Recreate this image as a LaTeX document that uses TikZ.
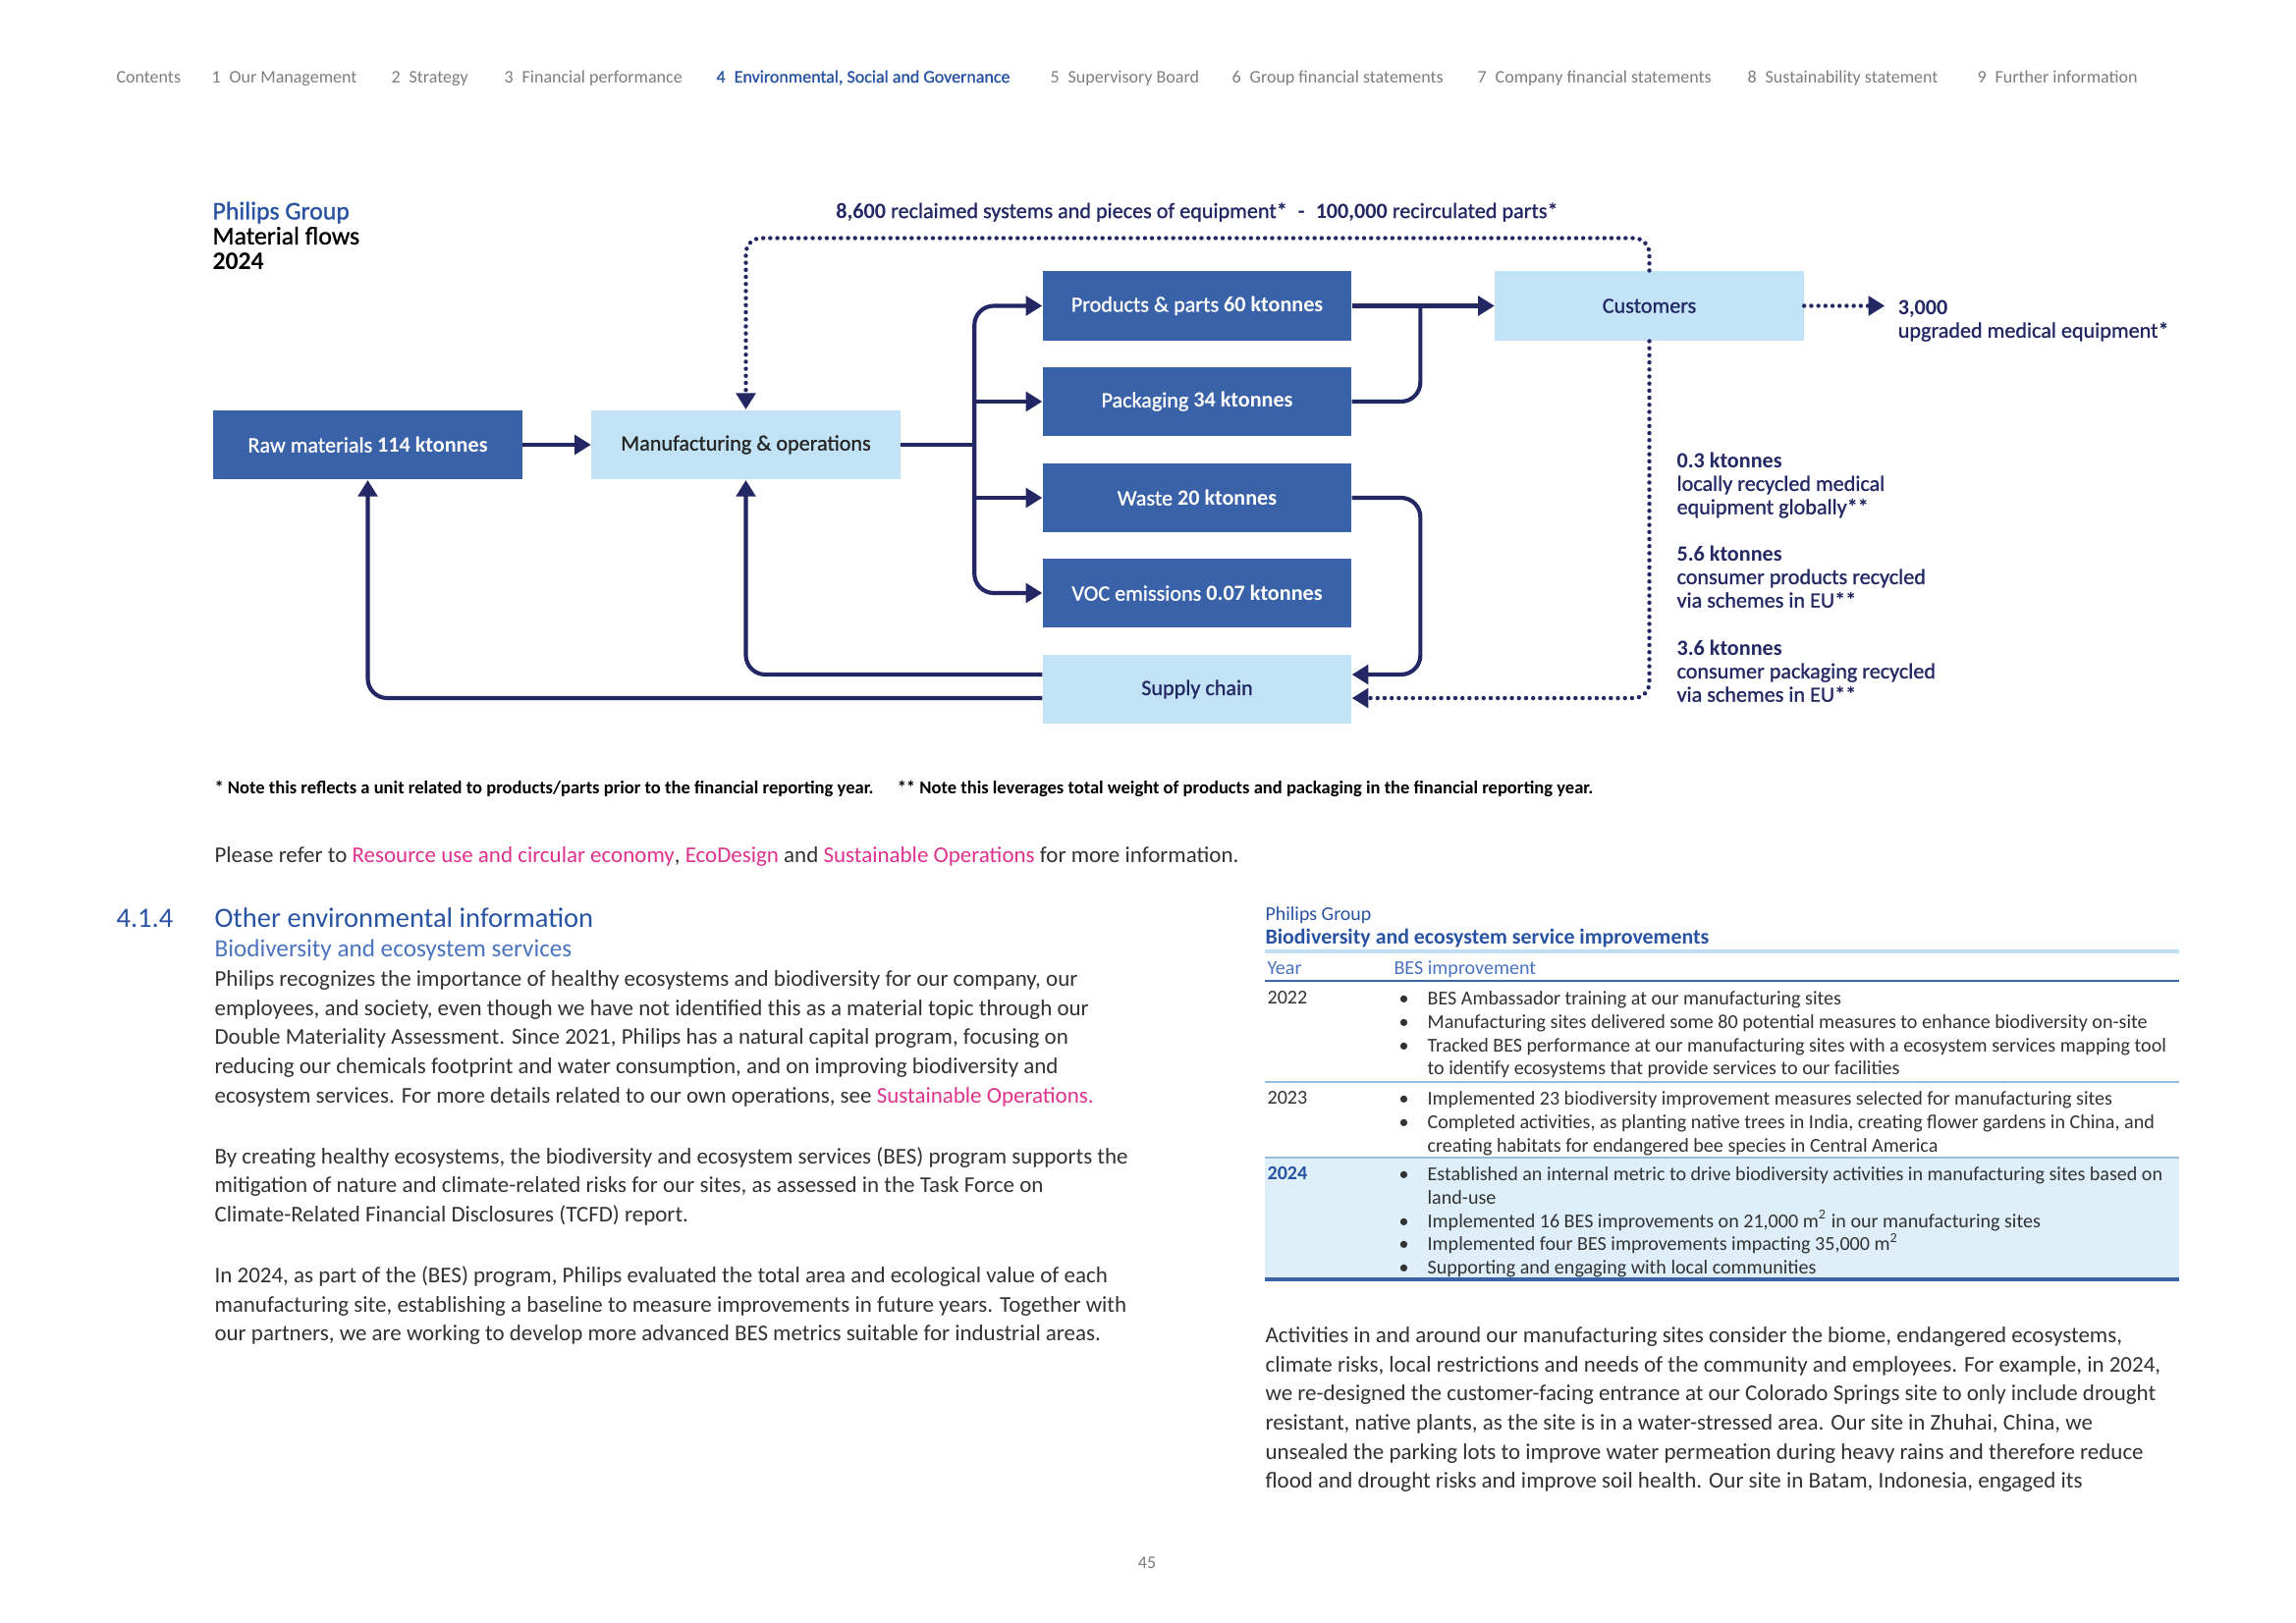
\documentclass[tikz,border=0pt]{standalone}
\usepackage{fontspec}
\setmainfont{Carlito}
\newfontface\semifont{Carlito}[FakeBold=1]
\usetikzlibrary{arrows.meta, positioning, calc}
\definecolor{boxblue}{RGB}{58,98,168}
\definecolor{boxlight}{RGB}{193,227,245}
\definecolor{flownavy}{RGB}{35,40,100}
\definecolor{titleblue}{RGB}{40,82,162}
\definecolor{subblue}{RGB}{75,115,190}
\definecolor{linkpink}{RGB}{222,50,140}
\definecolor{navgray}{RGB}{125,125,125}
\definecolor{bodygray}{RGB}{50,50,50}
\definecolor{rowshade}{RGB}{222,239,250}
\definecolor{rulelight}{RGB}{190,222,242}
\definecolor{rulemid}{RGB}{150,190,225}

\newcommand{\flownum}[1]{{\normalfont\bfseries #1}}
\newcommand{\weblink}[1]{\textcolor{linkpink}{#1}}
\newcommand{\besbullet}{\makebox[10.5pt][l]{\textbullet}}
\newcommand{\beshang}{\hspace*{10.5pt}}

\begin{document}
\begin{tikzpicture}[
    x=0.0127cm, y=-0.0127cm,
    flowbox/.style={rectangle, minimum width=3.99cm, minimum height=0.9cm, inner sep=0pt, align=center, font=\fontsize{8}{9}\selectfont\semifont},
    darkbox/.style={flowbox, fill=boxblue, text=white},
    lightbox/.style={flowbox, fill=boxlight, text=flownavy},
    flowline/.style={draw=flownavy, line width=1.5pt},
    flowarrow/.style={flowline, -{Triangle[length=6pt,width=7pt]}},
    dotline/.style={draw=flownavy, line width=1.6pt, line cap=round, dash pattern=on 0pt off 2.6pt},
    dotarrow/.style={dotline, -{Triangle[length=6pt,width=7pt]}},
    navlabel/.style={anchor=mid west, inner sep=0pt, text=navgray, font=\fontsize{6.5}{7}\selectfont},
    flowtext/.style={anchor=north west, inner sep=0pt, align=left, text=flownavy, font=\fontsize{8}{8.6}\selectfont\semifont},
    bodytext/.style={anchor=north west, inner sep=0pt, align=left, text=bodygray, font=\fontsize{8.3}{10.7}\selectfont},
    tabletext/.style={anchor=north west, inner sep=0pt, align=left, text=bodygray, font=\fontsize{7.25}{8.6}\selectfont}
]
\useasboundingbox[fill=white] (0,0) rectangle (2338,1652);

% Navigation bar
\foreach \x/\t [count=\i] in {118/Contents, 215/{1\enspace Our Management}, 398/{2\enspace Strategy},
    513/{3\enspace Financial performance}, 1069/{5\enspace Supervisory Board},
    1254/{6\enspace Group financial statements}, 1504/{7\enspace Company financial statements},
    1779/{8\enspace Sustainability statement}, 2013/{9\enspace Further information}}
  \node[navlabel] (nav\i) at (\x,77.5) {\t};
\node[navlabel, text=titleblue] (navactive) at (729,77.5) {\semifont 4\enspace Environmental, Social and Governance};

% Title
\node[anchor=north west, inner sep=0pt, align=left, font=\fontsize{9.3}{9.2}\selectfont\semifont] (title) at (216,205)
  {\textcolor{titleblue}{Philips Group}\\Material flows\\\flownum{2024}};

% Boxes
\node[darkbox] (raw) at (374.5,453) {Raw materials \flownum{114 ktonnes}};
\node[lightbox, text=black!85] (manuf) at (759.5,453) {Manufacturing \& operations};
\node[darkbox] (products) at (1219,311.5) {Products \& parts \flownum{60 ktonnes}};
\node[darkbox] (packaging) at (1219,409) {Packaging \flownum{34 ktonnes}};
\node[darkbox] (waste) at (1219,507) {Waste \flownum{20 ktonnes}};
\node[darkbox] (voc) at (1219,604) {VOC emissions \flownum{0.07 ktonnes}};
\node[lightbox] (supply) at (1219,702) {Supply chain};
\node[lightbox] (customers) at (1679.5,311.5) {Customers};

\coordinate (trunk) at ($(manuf.east)+(75,0)$);
\coordinate (join) at ($(products.east)!0.48!(customers.west)$);

% Solid flows
\draw[flowarrow] (raw) -- (manuf);
\draw[flowline] (manuf.east) -- (trunk);
\draw[flowarrow, rounded corners=2.5mm] (trunk) |- (products.west);
\draw[flowarrow, rounded corners=2.5mm] (trunk) |- (voc.west);
\draw[flowarrow] (trunk |- packaging.west) -- (packaging.west);
\draw[flowarrow] (trunk |- waste.west) -- (waste.west);
\draw[flowarrow] (products) -- (customers);
\draw[flowline, rounded corners=2.5mm] (packaging.east) -| (join);
\draw[flowarrow, rounded corners=2.5mm] (waste.east) -- (waste.east -| join) |- ($(supply.east)+(0,-15)$);
\draw[flowarrow, rounded corners=2.5mm] ($(supply.west)+(0,-15)$) -| (manuf.south);
\draw[flowarrow, rounded corners=2.5mm] ($(supply.west)+(0,9)$) -| (raw.south);

% Dotted flows
\draw[dotarrow, rounded corners=2mm] (customers.north) -- ++(0,-33) -| (manuf.north);
\draw[dotarrow, rounded corners=2mm] (customers.south) |- ($(supply.east)+(0,9)$);
\draw[dotarrow] (customers.east) -- ++(82,0) coordinate (upgend);

% Flow labels
\node[anchor=mid, inner sep=0pt, text=flownavy, font=\fontsize{8}{9}\selectfont\semifont] (reclaimed) at ($(products.north)+(0,-60)$)
  {\flownum{8,600} reclaimed systems and pieces of equipment*\enspace\flownum{-}\enspace\flownum{100,000} recirculated parts*};
\node[flowtext] (upgraded) at ($(upgend)+(13,-6.5)$) {\flownum{3,000}\\upgraded medical equipment*};
\node[flowtext] (recmed) at (1707,460) {\flownum{0.3 ktonnes}\\locally recycled medical\\equipment globally**};
\node[flowtext] (recprod) at (1707,555) {\flownum{5.6 ktonnes}\\consumer products recycled\\via schemes in EU**};
\node[flowtext] (recpack) at (1707,651) {\flownum{3.6 ktonnes}\\consumer packaging recycled\\via schemes in EU**};

% Notes
\node[anchor=mid west, inner sep=0pt, font=\fontsize{6.7}{7}\selectfont\bfseries] (footnote) at (218,802)
  {* Note this reflects a unit related to products/parts prior to the financial reporting year.\hspace{1.3em}** Note this leverages total weight of products and packaging in the financial reporting year.};
\node[anchor=mid west, inner sep=0pt, text=bodygray, font=\fontsize{8.3}{9}\selectfont] (refer) at (218,872)
  {Please refer to \weblink{Resource use and circular economy}, \weblink{EcoDesign} and \weblink{Sustainable Operations} for more information.};

% Section 4.1.4
\node[anchor=mid west, inner sep=0pt, text=titleblue, font=\fontsize{10.3}{12}\selectfont] (secnum) at (118,938) {4.1.4};
\node[anchor=mid west, inner sep=0pt, text=titleblue, font=\fontsize{10.3}{12}\selectfont] (sectitle) at (218,938) {Other environmental information};
\node[anchor=mid west, inner sep=0pt, text=subblue, font=\fontsize{9.1}{10}\selectfont] (subtitle) at (218,968) {Biodiversity and ecosystem services};

\node[bodytext] (bodyA) at (218,988) {Philips recognizes the importance of healthy ecosystems and biodiversity for our company, our\\
employees, and society, even though we have not identified this as a material topic through our\\
Double Materiality Assessment. Since 2021, Philips has a natural capital program, focusing on\\
reducing our chemicals footprint and water consumption, and on improving biodiversity and\\
ecosystem services. For more details related to our own operations, see \weblink{Sustainable Operations.}};
\node[bodytext] (bodyB) at (218,1168) {By creating healthy ecosystems, the biodiversity and ecosystem services (BES) program supports the\\
mitigation of nature and climate-related risks for our sites, as assessed in the Task Force on\\
Climate-Related Financial Disclosures (TCFD) report.};
\node[bodytext] (bodyC) at (218,1289) {In 2024, as part of the (BES) program, Philips evaluated the total area and ecological value of each\\
manufacturing site, establishing a baseline to measure improvements in future years. Together with\\
our partners, we are working to develop more advanced BES metrics suitable for industrial areas.};

% BES table
\node[anchor=mid west, inner sep=0pt, text=titleblue, font=\fontsize{7.2}{8}\selectfont] (tabgroup) at (1288,931) {Philips Group};
\node[anchor=mid west, inner sep=0pt, text=titleblue, font=\fontsize{7.9}{8}\selectfont\bfseries] (tabtitle) at (1288,955) {Biodiversity and ecosystem service improvements};
\fill[rowshade] (1288,1179) rectangle (2219,1302);
\draw[rulelight, line width=1.2pt] (1288,969) -- (2219,969);
\draw[boxblue, line width=0.6pt] (1288,999) -- (2219,999);
\draw[rulemid, line width=0.6pt] (1288,1102) -- (2219,1102);
\draw[rulemid, line width=0.6pt] (1288,1179) -- (2219,1179);
\draw[boxblue, line width=1.6pt] (1288,1303) -- (2219,1303);

\node[anchor=mid west, inner sep=0pt, text=subblue, font=\fontsize{7.25}{8}\selectfont] (hyear) at (1290,986) {Year};
\node[anchor=mid west, inner sep=0pt, text=subblue, font=\fontsize{7.25}{8}\selectfont] (hbes) at (1419,986) {BES improvement};
\node[tabletext] (y2022) at (1290,1009) {2022};
\node[tabletext] (y2023) at (1290,1111) {2023};
\node[tabletext, text=titleblue, font=\fontsize{7.25}{8.6}\selectfont\bfseries] (y2024) at (1290,1188) {2024};
\node[tabletext] (items2022) at (1424,1009) {\besbullet BES Ambassador training at our manufacturing sites\\
\besbullet Manufacturing sites delivered some 80 potential measures to enhance biodiversity on-site\\
\besbullet Tracked BES performance at our manufacturing sites with a ecosystem services mapping tool\\
\beshang to identify ecosystems that provide services to our facilities};
\node[tabletext] (items2023) at (1424,1111) {\besbullet Implemented 23 biodiversity improvement measures selected for manufacturing sites\\
\besbullet Completed activities, as planting native trees in India, creating flower gardens in China, and\\
\beshang creating habitats for endangered bee species in Central America};
\node[tabletext] (items2024) at (1424,1188) {\besbullet Established an internal metric to drive biodiversity activities in manufacturing sites based on\\
\beshang land-use\\
\besbullet Implemented 16 BES improvements on 21,000 m\textsuperscript{2} in our manufacturing sites\\
\besbullet Implemented four BES improvements impacting 35,000 m\textsuperscript{2}\\
\besbullet Supporting and engaging with local communities};

\node[bodytext] (bodyD) at (1288,1351) {Activities in and around our manufacturing sites consider the biome, endangered ecosystems,\\
climate risks, local restrictions and needs of the community and employees. For example, in 2024,\\
we re-designed the customer-facing entrance at our Colorado Springs site to only include drought\\
resistant, native plants, as the site is in a water-stressed area. Our site in Zhuhai, China, we\\
unsealed the parking lots to improve water permeation during heavy rains and therefore reduce\\
flood and drought risks and improve soil health. Our site in Batam, Indonesia, engaged its};

% Page number
\node[inner sep=0pt, text=navgray, font=\fontsize{6.5}{7}\selectfont] (pagenum) at (1168,1592) {45};
\end{tikzpicture}
\end{document}
